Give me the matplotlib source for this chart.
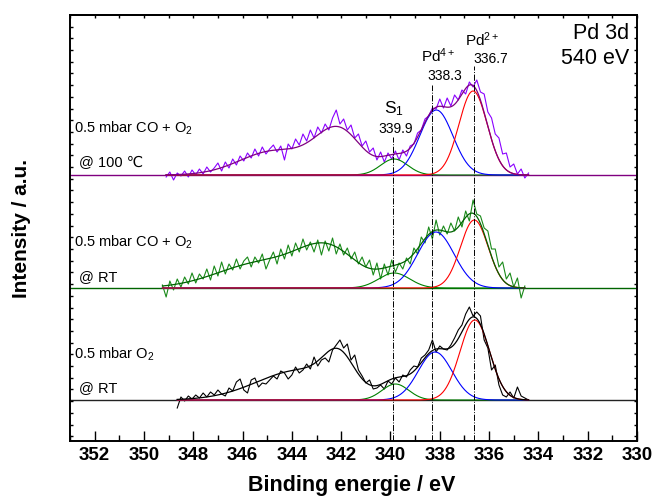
import matplotlib

matplotlib.use("Agg")
import matplotlib.pyplot as plt
import numpy as np
from matplotlib.ticker import FixedLocator, MultipleLocator, NullFormatter

plt.rcParams["font.family"] = ["Liberation Sans", "DejaVu Sans"]
plt.rcParams["mathtext.fontset"] = "custom"
plt.rcParams["mathtext.rm"] = "Liberation Sans"
plt.rcParams["mathtext.it"] = "Liberation Sans:italic"
plt.rcParams["mathtext.bf"] = "Liberation Sans:bold"

# --- data (heights in arbitrary units above each spectrum's baseline) ---
offsets = [41, 153, 266]                      # O2 @ RT, CO+O2 @ RT, CO+O2 @ 100 C
raw_start = [348.65, 349.25, 349.10]
raw_end = [334.40, 334.55, 334.40]

raw_o2_rt = [-8, 3, -1, 4, 1, 5, 2, 7, 3, 8,
             5, 10, 6, 4, 12, 9, 18, 21, 10, 7,
             20, 22, 13, 17, 16, 20, 24, 21, 29, 27,
             21, 25, 33, 27, 30, 36, 31, 43, 34, 40,
             42, 38, 50, 55, 60, 52, 56, 40, 45, 30,
             24, 17, 20, 11, 12, 15, 11, 19, 16, 22,
             18, 25, 23, 30, 34, 33, 42, 45, 50, 60,
             48, 54, 51, 50, 55, 62, 70, 75, 86, 93,
             84, 88, 84, 60, 52, 30, 35, 15, 5, 3,
             8, 2, 13, 4, 2, 0]
raw_co_rt = [3, -9, 7, -2, 9, 1, 11, 4, 15, 5,
             14, 9, 19, 8, 22, 12, 26, 14, 24, 18,
             29, 19, 27, 31, 21, 31, 25, 34, 19, 28,
             36, 24, 39, 29, 43, 32, 45, 36, 49, 38,
             46, 36, 48, 33, 47, 37, 50, 34, 44, 33,
             40, 29, 36, 24, 31, 21, 28, 13, 25, 9,
             24, 13, 28, 16, 25, 19, 30, 24, 40, 34,
             51, 45, 61, 49, 68, 53, 62, 54, 65, 57,
             71, 61, 77, 67, 88, 74, 72, 60, 57, 39,
             39, 21, 26, 9, 15, 1, 10, -10, 2]
raw_co_100 = [-2, 3, -5, 2, -1, 4, -2, 5, 0, 6,
              1, 8, 3, 7, 12, 4, 13, 7, 16, 10,
              19, 14, 22, 17, 26, 19, 28, 21, 26, 30,
              23, 29, 15, 31, 26, 36, 30, 41, 34, 45,
              37, 48, 42, 51, 45, 57, 65, 51, 56, 45,
              50, 37, 41, 29, 34, 23, 27, 15, 23, 13,
              22, 16, 24, 15, 25, 19, 29, 31, 42, 45,
              56, 59, 67, 66, 76, 67, 77, 69, 80, 75,
              85, 81, 93, 88, 95, 83, 81, 63, 57, 41,
              37, 21, 22, 8, 11, 1, 6, -3, 2]

# fitted components S1, Pd4+, Pd2+ : centre (eV), height, sigma (eV)
peak_centers = [[339.80, 338.19, 336.58], [339.85, 338.16, 336.60], [339.85, 338.14, 336.65]]
peak_heights = [[16, 48, 80], [15, 56, 68], [16, 65, 84]]
peak_sigmas = [[0.54, 0.68, 0.60], [0.63, 0.74, 0.56], [0.55, 0.67, 0.57]]
# broad high-BE features included in the envelope only
bg_centers = [[342.1, 343.6], [342.5, 345.2], [342.1, 344.7]]
bg_heights = [[30, 30], [36, 25], [44, 24]]
bg_sigmas = [[0.6, 1.8], [1.2, 1.8], [0.93, 1.4]]

line_pos = [339.9, 338.3, 336.6]
line_top = [304, 356, 375]
peak_labels = ["339.9", "338.3", "336.7"]

raw_colors = ["black", "#1a8a1a", "#8a00ff"]
env_colors = ["black", "#006400", "#800080"]
base_colors = ["#222222", "#006400", "#800080"]
comp_colors = ["#008000", "#0000ff", "#ff0000"]


def gauss(x, c, h, s):
    return h * np.exp(-(x - c) ** 2 / (2 * s ** 2))


fig = plt.figure(figsize=(6.53, 4.98), dpi=100)
ax = fig.add_axes([70 / 653, 1 - 441 / 498, 567 / 653, 426 / 498])

raws = [raw_o2_rt, raw_co_rt, raw_co_100]
for k in range(3):
    off = offsets[k]
    ax.axhline(off, color=base_colors[k], lw=1.0, zorder=1)
    e_raw = np.linspace(raw_start[k], raw_end[k], len(raws[k]))
    ax.plot(e_raw, np.array(raws[k]) + off, color=raw_colors[k], lw=0.8, zorder=2)
    e = np.linspace(raw_start[k], raw_end[k], 600)
    env = np.zeros_like(e)
    for j in range(3):
        comp = gauss(e, peak_centers[k][j], peak_heights[k][j], peak_sigmas[k][j])
        env += comp
        ax.plot(e, comp + off, color=comp_colors[j], lw=0.8, zorder=3)
    for j in range(2):
        env += gauss(e, bg_centers[k][j], bg_heights[k][j], bg_sigmas[k][j])
    ax.plot(e, env + off, color=env_colors[k], lw=0.9, zorder=4)

ax.vlines(line_pos, 0, line_top, colors="black", linestyles="-.", lw=0.7, zorder=5)

ax.set_xlim(353, 330)
ax.set_ylim(0, 426)
ax.xaxis.set_major_locator(MultipleLocator(2))
ax.xaxis.set_minor_locator(MultipleLocator(1))
ax.yaxis.set_major_locator(FixedLocator(np.arange(4.8, 426, 11.7)))
ax.yaxis.set_major_formatter(NullFormatter())
ax.tick_params(axis="x", which="major", direction="in", length=7, width=1, pad=4, labelsize=13.5)
ax.tick_params(axis="x", which="minor", direction="in", length=4, width=1)
ax.tick_params(axis="y", direction="in", length=2.5, width=1, left=True, right=True)
for lab in ax.get_xticklabels():
    lab.set_fontweight("bold")
top = ax.secondary_xaxis("top")
top.xaxis.set_major_locator(MultipleLocator(1))
top.tick_params(direction="in", length=2, width=1, labeltop=False)
for sp in ax.spines.values():
    sp.set_linewidth(1.4)
top.spines["top"].set_linewidth(1.4)

txt = dict(fontsize=10.5, color="black")
ax.text(352.84, 308, "0.5 mbar CO + O$_2$", **txt)
ax.text(352.62, 274, "@ 100 \u2103", **txt)
ax.text(352.84, 194, "0.5 mbar CO + O$_2$", **txt)
ax.text(352.62, 160, "@ RT", **txt)
ax.text(352.84, 82, "0.5 mbar O$_2$", **txt)
ax.text(352.62, 49, "@ RT", **txt)

ax.text(339.87, 328, "S$_1$", fontsize=12.5, ha="center")
ax.text(339.80, 308, peak_labels[0], fontsize=10, ha="center")
ax.text(338.06, 379, "Pd$^{4+}$", fontsize=11, ha="center")
ax.text(337.80, 361, peak_labels[1], fontsize=10, ha="center")
ax.text(336.27, 395, "Pd$^{2+}$", fontsize=11, ha="center")
ax.text(335.93, 378, peak_labels[2], fontsize=10, ha="center")
ax.text(330.32, 402, "Pd 3d", fontsize=15.5, ha="right")
ax.text(330.32, 377, "540 eV", fontsize=15.5, ha="right")

fig.text(22 / 653, 1 - 228 / 498, "Intensity / a.u.", rotation=90, ha="center", va="center",
         fontsize=15, fontweight="bold")
fig.text(352 / 653, 1 - 485 / 498, "Binding energie / eV", ha="center", va="center",
         fontsize=15.5, fontweight="bold")

fig.savefig("out.png", dpi=100)
